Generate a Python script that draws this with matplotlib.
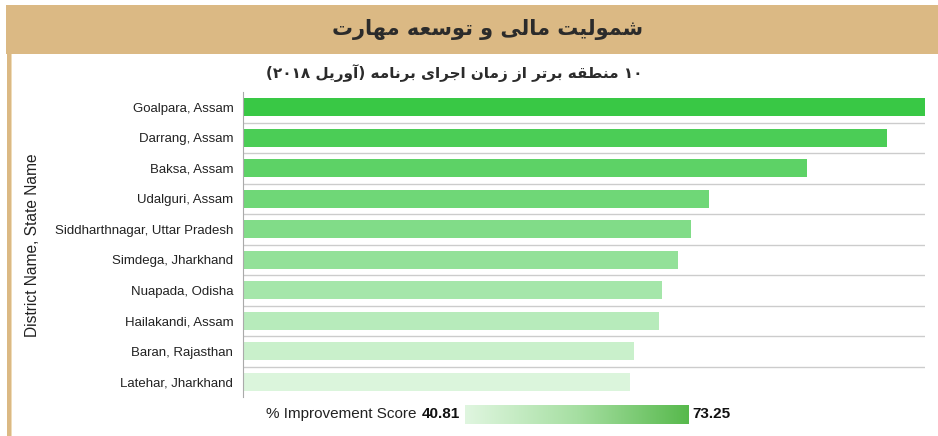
import re
import numpy as np
import matplotlib
matplotlib.use("Agg")
import matplotlib.pyplot as plt
from matplotlib.colors import LinearSegmentedColormap
from matplotlib.patches import Rectangle

# data
districts = [
    "Goalpara, Assam",
    "Darrang, Assam",
    "Baksa, Assam",
    "Udalguri, Assam",
    "Siddharthnagar, Uttar Pradesh",
    "Simdega, Jharkhand",
    "Nuapada, Odisha",
    "Hailakandi, Assam",
    "Baran, Rajasthan",
    "Latehar, Jharkhand",
]
scores = [73.25, 69.2, 60.6, 50.1, 48.1, 46.7, 45.0, 44.7, 42.0, 41.6]
score_min = 40.81
score_max = 73.25

title = "شمولیت مالی و توسعه مهارت"
subtitle = "۱۰ منطقه برتر از زمان اجرای برنامه (آوریل ۲۰۱۸)"
y_label = "District Name, State Name"
legend_label = "% Improvement Score"

# matplotlib has no arabic shaping / bidi, so do a small one by hand
FORMS = {
    "ا": (0xFE8D, 0xFE8E, None, None),
    "آ": (0xFE81, 0xFE82, None, None),
    "ب": (0xFE8F, 0xFE90, 0xFE91, 0xFE92),
    "ت": (0xFE95, 0xFE96, 0xFE97, 0xFE98),
    "ج": (0xFE9D, 0xFE9E, 0xFE9F, 0xFEA0),
    "ر": (0xFEAD, 0xFEAE, None, None),
    "ز": (0xFEAF, 0xFEB0, None, None),
    "س": (0xFEB1, 0xFEB2, 0xFEB3, 0xFEB4),
    "ش": (0xFEB5, 0xFEB6, 0xFEB7, 0xFEB8),
    "ط": (0xFEC1, 0xFEC2, 0xFEC3, 0xFEC4),
    "ع": (0xFEC9, 0xFECA, 0xFECB, 0xFECC),
    "ق": (0xFED5, 0xFED6, 0xFED7, 0xFED8),
    "ل": (0xFEDD, 0xFEDE, 0xFEDF, 0xFEE0),
    "م": (0xFEE1, 0xFEE2, 0xFEE3, 0xFEE4),
    "ن": (0xFEE5, 0xFEE6, 0xFEE7, 0xFEE8),
    "ه": (0xFEE9, 0xFEEA, 0xFEEB, 0xFEEC),
    "و": (0xFEED, 0xFEEE, None, None),
    "ی": (0xFEEF, 0xFEF0, 0xFEF3, 0xFEF4),
}


def fa(text):
    out = []
    for i, ch in enumerate(text):
        if ch not in FORMS:
            out.append(ch)
            continue
        iso, fin, ini, med = FORMS[ch]
        prev = text[i - 1] if i > 0 else ""
        nxt = text[i + 1] if i + 1 < len(text) else ""
        join_prev = prev in FORMS and FORMS[prev][2] is not None
        join_next = ini is not None and nxt in FORMS
        if join_prev and join_next:
            code = med
        elif join_prev:
            code = fin
        elif join_next:
            code = ini
        else:
            code = iso
        out.append(chr(code))
    vis = "".join(out[::-1])
    vis = re.sub(r"[۰-۹0-9]+", lambda m: m.group()[::-1], vis)
    return vis.translate(str.maketrans("()", ")("))


W, H = 938, 436


def box(x0, y0, x1, y1):
    return [x0 / W, 1 - y1 / H, (x1 - x0) / W, (y1 - y0) / H]


plt.rcParams["font.family"] = ["Liberation Sans", "DejaVu Sans"]

fig = plt.figure(figsize=(W / 100, H / 100), dpi=100)

# header band and side strip
fig.patches.append(Rectangle((6 / W, 1 - 54 / H), 1, 49 / H, transform=fig.transFigure,
                             facecolor="#dbb984", edgecolor="none", zorder=0))
fig.patches.append(Rectangle((7 / W, 0), 5 / W, 1 - 54 / H, transform=fig.transFigure,
                             facecolor="#dbb984", edgecolor="none", zorder=0))
fig.patches.append(Rectangle((11 / W, 0), 1.2 / W, 1 - 54 / H, transform=fig.transFigure,
                             facecolor="#efdcb9", edgecolor="none", zorder=0))

fig.text(488 / W, 1 - 30 / H, fa(title), ha="center", va="center", fontsize=15,
         fontweight="bold", color="#2b2b2b", family="DejaVu Sans")
fig.text(454 / W, 1 - 73 / H, fa(subtitle), ha="center", va="center", fontsize=11,
         fontweight="bold", color="#2b2b2b", family="DejaVu Sans")

bar_cmap = LinearSegmentedColormap.from_list("bars", ["#dbf5dc", "#39c845"])
colors = bar_cmap(np.linspace(1, 0, len(districts)))

ax = fig.add_axes(box(243, 92, 925, 397))
y = np.arange(len(districts))
ax.barh(y, scores, height=0.6, color=colors, zorder=2)
ax.set_ylim(len(districts) - 0.5, -0.5)
ax.set_xlim(0, score_max)
for b in y[:-1] + 0.5:
    ax.axhline(b, color="#cccccc", lw=1, zorder=1)
for s in ["top", "right", "bottom"]:
    ax.spines[s].set_visible(False)
ax.spines["left"].set_color("#aaaaaa")
ax.set_xticks([])
ax.set_yticks(y)
ax.set_yticklabels(districts, fontsize=9.5, color="#222222")
ax.tick_params(axis="y", length=0, pad=7)

fig.text(33 / W, 1 - 245 / H, y_label, rotation=90, ha="center", va="center",
         fontsize=11.2, color="#222222")

# colour legend
fig.text(416 / W, 1 - 414 / H, legend_label, ha="right", va="center", fontsize=11, color="#222222")
fig.text(460 / W, 1 - 414 / H, f"{score_min:.2f}", ha="right", va="center", fontsize=11,
         fontweight="bold", color="#111111")
fig.text(692 / W, 1 - 414 / H, f"{score_max:.2f}", ha="left", va="center", fontsize=11,
         fontweight="bold", color="#111111")
leg_cmap = LinearSegmentedColormap.from_list("leg", ["#e0f6e0", "#a6dfa2", "#57b94c"])
lax = fig.add_axes(box(465, 405, 688, 424))
lax.imshow(np.linspace(score_min, score_max, 256)[None, :], aspect="auto", cmap=leg_cmap)
lax.axis("off")

fig.savefig("out.png", dpi=100)
